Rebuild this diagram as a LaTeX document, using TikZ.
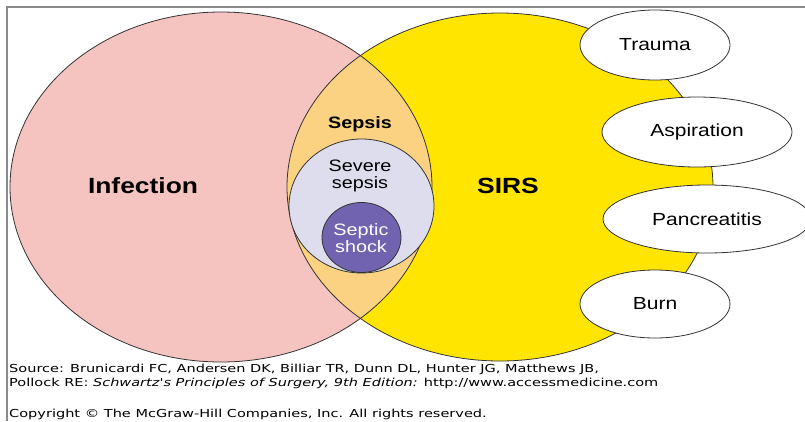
\documentclass[tikz,border=0pt]{standalone}
\usepackage{fontspec}
\setmainfont{Liberation Sans}
\newfontfamily\figfont[FakeStretch=1.2]{Liberation Sans}
\newfontfamily\srcfont[FakeStretch=1.32]{DejaVu Sans}
\usetikzlibrary{shapes.geometric}
\definecolor{infpink}{HTML}{F6C4C0}
\definecolor{sirsyellow}{HTML}{FFE500}
\definecolor{sepsisorange}{HTML}{FAD282}
\definecolor{severelav}{HTML}{DDDDEE}
\definecolor{shockpurple}{HTML}{7163B0}
\definecolor{framegray}{HTML}{8A8A8A}
\tikzset{
  outline/.style={draw=black!80, line width=0.8pt},
  setbox/.style={ellipse, inner sep=0pt},
  cause/.style={setbox, outline, fill=white, font=\figfont\fontsize{17.5}{20}\selectfont},
  biglabel/.style={font=\figfont\bfseries\fontsize{22}{26}\selectfont},
  smalllabel/.style={align=center, font=\figfont\fontsize{16.5}{17}\selectfont},
  srctext/.style={anchor=base west, inner sep=0pt, align=left,
    font=\srcfont\fontsize{11}{14}\selectfont}
}

\begin{document}
\begin{tikzpicture}[x=1pt, y=-1pt]
  \useasboundingbox (0,0) rectangle (805,421);

  % the two big sets
  \node[setbox, fill=infpink, minimum width=422pt, minimum height=350pt] (infection) at (221,187) {};
  \node[setbox, fill=sirsyellow, minimum width=426pt, minimum height=348pt] (sirs) at (500,187) {};
  \begin{scope}
    \clip (infection.center) ellipse [x radius=211pt, y radius=175pt];
    \fill[sepsisorange] (sirs.center) ellipse [x radius=213pt, y radius=174pt];
  \end{scope}
  \draw[outline] (infection.center) ellipse [x radius=211pt, y radius=175pt];
  \draw[outline] (sirs.center) ellipse [x radius=213pt, y radius=174pt];

  \node[biglabel] (inflabel) at (143,186) {Infection};
  \node[biglabel] (sirslabel) at (508,186) {SIRS};

  % nested sets in the overlap
  \node[setbox, outline, fill=severelav, minimum width=145pt, minimum height=134pt] (severe) at (361.5,206) {};
  \node[setbox, outline, fill=shockpurple, minimum width=79pt, minimum height=70pt] (shock) at (361.5,237.5) {};
  \node[smalllabel, font=\figfont\bfseries\fontsize{16.5}{17}\selectfont] (sepsislabel) at (360,124) {Sepsis};
  \node[smalllabel] (severelabel) at (360,176) {Severe\\sepsis};
  \node[smalllabel, text=white] (shocklabel) at (361,238) {Septic\\shock};

  % causes of SIRS
  \node[cause, minimum width=150pt, minimum height=70pt] (trauma) at (655,45) {Trauma};
  \node[cause, minimum width=190pt, minimum height=70pt] (aspiration) at (697,132) {Aspiration};
  \node[cause, minimum width=208pt, minimum height=68pt] (pancreatitis) at (707,219) {Pancreatitis};
  \node[cause, minimum width=150pt, minimum height=68pt] (burn) at (655,304) {Burn};

  % frame and source
  \draw[framegray, line width=2pt] (805,7) -- (7,7) -- (7,421);
  \node[srctext] (source) at (9,386) {Source: Brunicardi FC, Andersen DK, Billiar TR, Dunn DL, Hunter JG, Matthews JB,\\
    Pollock RE: \textit{Schwartz's Principles of Surgery, 9th Edition:} http://www.accessmedicine.com};
  \node[srctext] (copyright) at (9,417) {Copyright © The McGraw-Hill Companies, Inc. All rights reserved.};
\end{tikzpicture}
\end{document}
